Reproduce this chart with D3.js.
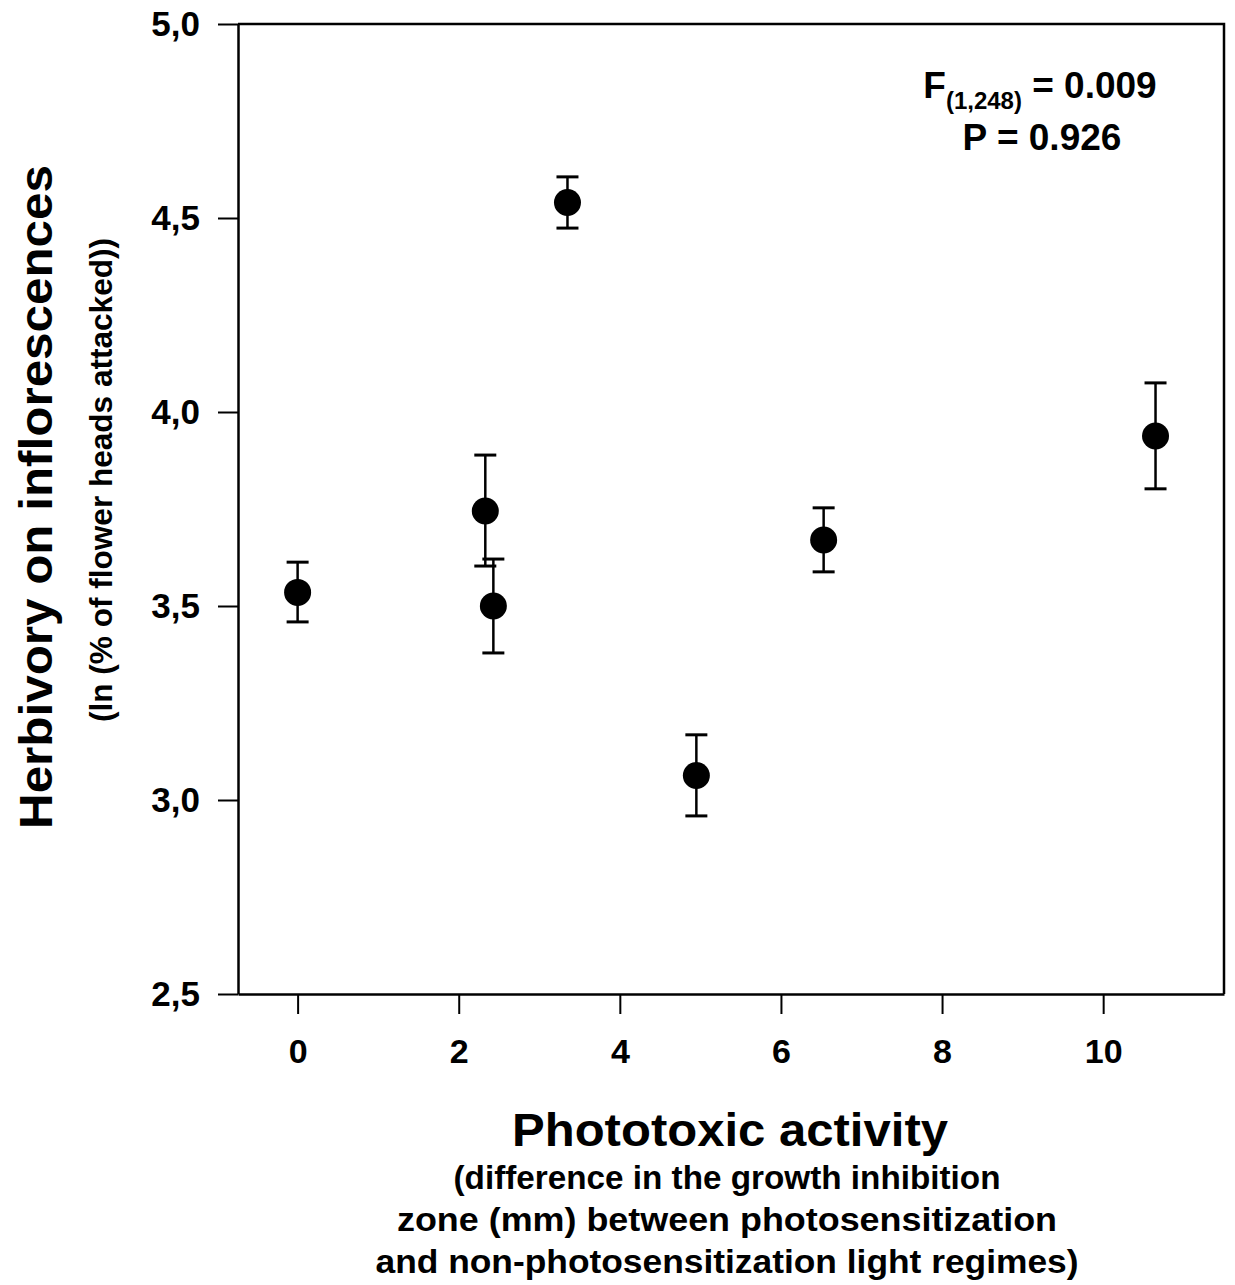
<!DOCTYPE html>
<html>
<head>
<meta charset="utf-8">
<script src="https://cdn.jsdelivr.net/npm/d3@7"></script>
<style>
  body { margin: 0; background: #fff; }
  text { font-family: "Liberation Sans", Arial, sans-serif; font-weight: bold; fill: #000; }
</style>
</head>
<body>
<div id="chart"></div>
<script>
// phototoxic activity (x), mean herbivory (y), error bar limits
var activity = [0, 2.33, 2.43, 3.35, 4.95, 6.53, 10.65];
var herbivory = [3.535, 3.745, 3.50, 4.54, 3.063, 3.67, 3.938];
var errLow = [3.459, 3.603, 3.379, 4.474, 2.959, 3.588, 3.802];
var errHigh = [3.613, 3.889, 3.621, 4.606, 3.168, 3.753, 4.075];
var xTicks = [0, 2, 4, 6, 8, 10];
var yTicks = [2.5, 3.0, 3.5, 4.0, 4.5, 5.0];

var width = 1235, height = 1285;
var margin = {top: 24, right: 11, bottom: 291, left: 238};

var svg = d3.select('#chart').append('svg')
    .attr('width', width)
    .attr('height', height);

var x = d3.scaleLinear()
    .domain([-0.74, 11.5])
    .range([margin.left, width - margin.right]);

var y = d3.scaleLinear()
    .domain([2.5, 5.0])
    .range([height - margin.bottom, margin.top]);

var fmt = function(d) { return d3.format('.1f')(d).replace('.', ','); };

// x axis
var xAxis = svg.append('g')
    .attr('transform', 'translate(0,' + y(2.5) + ')')
    .call(d3.axisBottom(x).tickValues(xTicks).tickSize(20).tickSizeOuter(0).tickPadding(25));
xAxis.select('.domain').attr('stroke-width', 2.5);
xAxis.selectAll('.tick line').attr('stroke-width', 2);
xAxis.selectAll('.tick text').style('font-size', '34px').attr('font-family', null);

// y axis
var yAxis = svg.append('g')
    .attr('transform', 'translate(' + x(-0.74) + ',0)')
    .call(d3.axisLeft(y).tickValues(yTicks).tickFormat(fmt).tickSize(20).tickSizeOuter(0).tickPadding(18));
yAxis.select('.domain').attr('stroke-width', 2.5);
yAxis.selectAll('.tick line').attr('stroke-width', 2);
yAxis.selectAll('.tick text').style('font-size', '35px').attr('font-family', null);

// top and right frame
svg.append('path')
    .attr('d', d3.line()([[x(-0.74), y(5)], [x(11.5), y(5)], [x(11.5), y(2.5)]]))
    .attr('fill', 'none')
    .attr('stroke', '#000')
    .attr('stroke-width', 2.5);

// error bars
var idx = d3.range(activity.length);
var bars = svg.append('g').attr('stroke', '#000').attr('stroke-width', 2.5);
bars.selectAll('line.v').data(idx).enter().append('line')
    .attr('x1', function(i) { return x(activity[i]); })
    .attr('x2', function(i) { return x(activity[i]); })
    .attr('y1', function(i) { return y(errLow[i]); })
    .attr('y2', function(i) { return y(errHigh[i]); });
bars.selectAll('line.hi').data(idx).enter().append('line')
    .attr('x1', function(i) { return x(activity[i]) - 11; })
    .attr('x2', function(i) { return x(activity[i]) + 11; })
    .attr('y1', function(i) { return y(errHigh[i]); })
    .attr('y2', function(i) { return y(errHigh[i]); })
    .attr('stroke-width', 3);
bars.selectAll('line.lo').data(idx).enter().append('line')
    .attr('x1', function(i) { return x(activity[i]) - 11; })
    .attr('x2', function(i) { return x(activity[i]) + 11; })
    .attr('y1', function(i) { return y(errLow[i]); })
    .attr('y2', function(i) { return y(errLow[i]); })
    .attr('stroke-width', 3);

// points
svg.append('g').selectAll('circle').data(idx).enter().append('circle')
    .attr('cx', function(i) { return x(activity[i]); })
    .attr('cy', function(i) { return y(herbivory[i]); })
    .attr('r', 13.5)
    .attr('fill', '#000');

// statistics
var stat = svg.append('text')
    .attr('x', 1040).attr('y', 98)
    .attr('text-anchor', 'middle')
    .style('font-size', '37px');
stat.append('tspan').text('F');
stat.append('tspan').attr('dy', 11).style('font-size', '24px').text('(1,248)');
stat.append('tspan').attr('dy', -11).text(' = 0.009');
svg.append('text')
    .attr('x', 1042).attr('y', 150)
    .attr('text-anchor', 'middle')
    .style('font-size', '37px')
    .text('P = 0.926');

// y title
svg.append('text')
    .attr('transform', 'translate(52,497) rotate(-90)')
    .attr('text-anchor', 'middle')
    .style('font-size', '46px')
    .attr('textLength', 664)
    .attr('lengthAdjust', 'spacingAndGlyphs')
    .text('Herbivory on inflorescences');
svg.append('text')
    .attr('transform', 'translate(112,480) rotate(-90)')
    .attr('text-anchor', 'middle')
    .style('font-size', '31px')
    .attr('textLength', 484)
    .attr('lengthAdjust', 'spacingAndGlyphs')
    .text('(ln (% of flower heads attacked))');

// x title
svg.append('text')
    .attr('x', 730).attr('y', 1146)
    .attr('text-anchor', 'middle')
    .style('font-size', '47px')
    .attr('textLength', 436)
    .attr('lengthAdjust', 'spacingAndGlyphs')
    .text('Phototoxic activity');
var xSub = ['(difference in the growth inhibition',
            'zone (mm) between photosensitization',
            'and non-photosensitization light regimes)'];
var xSubLen = [547, 660, 703];
svg.append('g').selectAll('text').data(xSub).enter().append('text')
    .attr('x', 727)
    .attr('y', function(d, i) { return 1189 + i * 42; })
    .attr('text-anchor', 'middle')
    .style('font-size', '33px')
    .attr('textLength', function(d, i) { return xSubLen[i]; })
    .attr('lengthAdjust', 'spacingAndGlyphs')
    .text(function(d) { return d; });
</script>
</body>
</html>
